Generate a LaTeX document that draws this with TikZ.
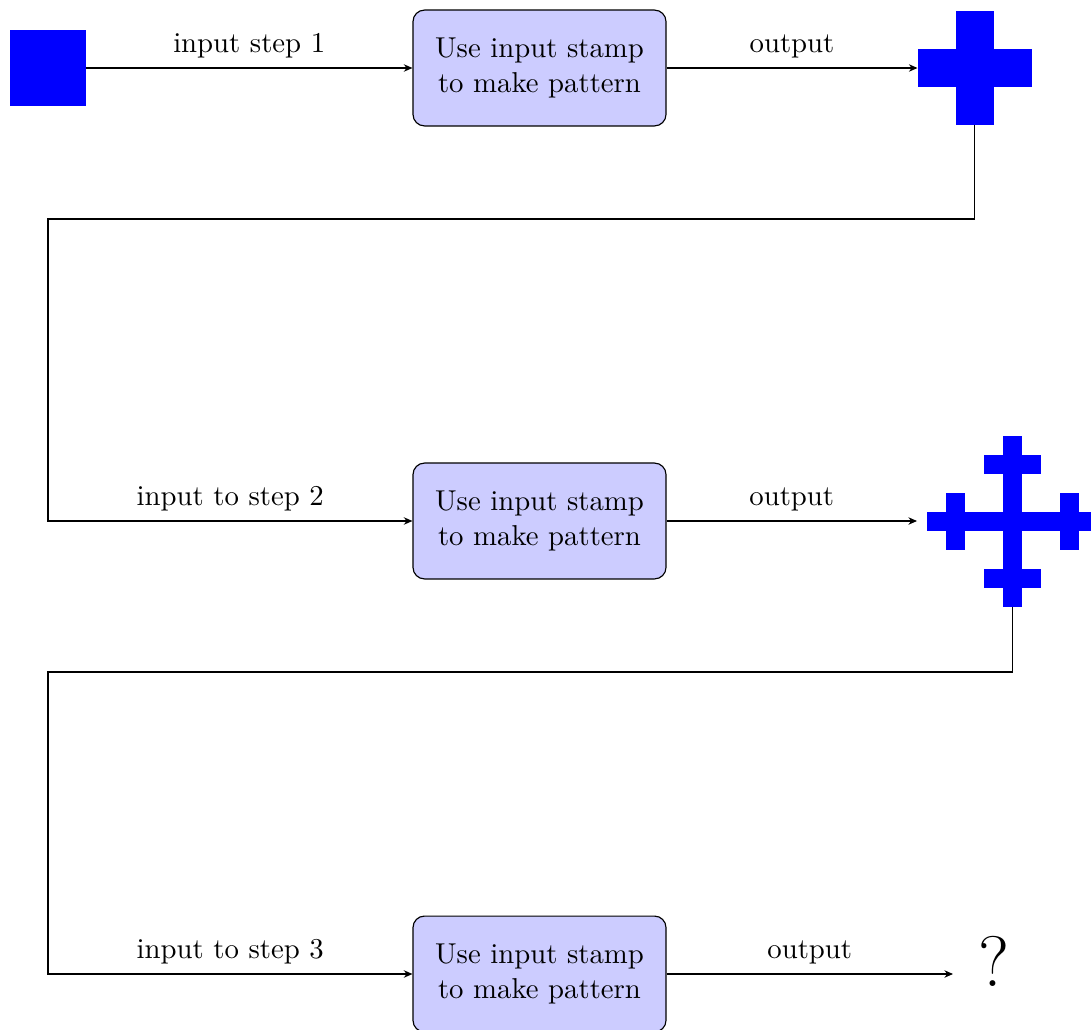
\documentclass[tikz,border=0pt]{standalone}
\usetikzlibrary{arrows.meta}
\tikzset{
  stampbox/.style={draw=black, fill=blue!20, rounded corners=4pt, align=center,
    minimum width=88pt, minimum height=40.3pt, inner sep=2pt},
  flow/.style={-{Stealth[length=3pt,width=2.6pt]}, line width=0.4pt},
  seglabel/.style={above},
  holder/.style={inner sep=0pt, outer sep=0pt}
}
\begin{document}
\begin{tikzpicture}[x=0.347826pt, y=-0.347826pt]
\useasboundingbox (0,0) rectangle (1091,1030);
% input square
\node[holder, fill=blue, minimum size=26.43pt] (sq) at (48,68) {};
% boxes
\node[stampbox] (b1) at (539.5,68) {Use input stamp\\to make pattern};
\node[stampbox] (b2) at (539.5,521) {Use input stamp\\to make pattern};
\node[stampbox] (b3) at (539.5,974) {Use input stamp\\to make pattern};
% cross holders
\node[holder, minimum size=39.65pt] (c1) at (974.5,68) {};
\node[holder, minimum width=66.43pt, minimum height=59.48pt] (c2) at (1012.5,521) {};
% cross 1
\begin{scope}[shift={(974.5,68)}, xscale=38, yscale=38]
  \fill[blue] (-0.5,-1.5) rectangle (0.5,1.5);
  \fill[blue] (-1.5,-0.5) rectangle (1.5,0.5);
\end{scope}
% cross 2
\begin{scope}[shift={(1012.5,521.5)}, xscale=19, yscale=19]
  \fill[blue] (-0.5,-4.5) rectangle (0.5,4.5);
  \fill[blue] (-4.5,-0.5) rectangle (4.5,0.5);
  \fill[blue] (-1.5,-3.5) rectangle (1.5,-2.5);
  \fill[blue] (-1.5,2.5) rectangle (1.5,3.5);
  \fill[blue] (-3.5,-1.5) rectangle (-2.5,1.5);
  \fill[blue] (2.5,-1.5) rectangle (3.5,1.5);
\end{scope}
% question mark
\node[anchor=base, inner sep=0pt] (q) at (993.5,986) {\Huge ?};
\coordinate (qin) at (953,974);
% turning points
\coordinate (k1) at (48,219);
\coordinate (k2) at (48,672);
% connectors
\draw[flow] (sq.east) -- node[seglabel] {input step 1} (b1.west);
\draw[flow] (b1.east) -- node[seglabel] {output} (c1.west);
\draw[flow] (c1.south) |- (k1) |- node[seglabel, pos=0.75] {input to step 2} (b2.west);
\draw[flow] (b2.east) -- node[seglabel] {output} (c2.west);
\draw[flow] (c2.south) |- (k2) |- node[seglabel, pos=0.75] {input to step 3} (b3.west);
\draw[flow] (b3.east) -- node[seglabel] {output} (qin);
\end{tikzpicture}
\end{document}
